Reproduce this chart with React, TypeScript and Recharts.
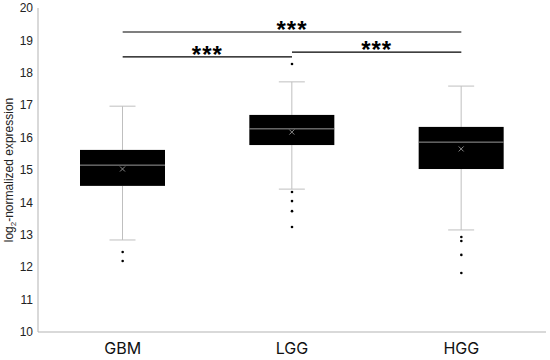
import React from 'react';
import {
  Bar,
  ComposedChart,
  ReferenceLine,
  Scatter,
  XAxis,
  YAxis
} from 'recharts';

const groups = ['GBM', 'LGG', 'HGG'];
const whiskerLow = [12.84, 14.41, 13.15];
const q1 = [14.51, 15.77, 15.03];
const median = [15.15, 16.27, 15.86];
const q3 = [15.62, 16.7, 16.33];
const whiskerHigh = [16.97, 17.72, 17.59];
const means = [15.03, 16.17, 15.65];
const outliers = [
  [12.47, 12.19],
  [18.27, 14.32, 14.04, 13.73, 13.24],
  [12.93, 12.81, 12.38, 11.82]
];
const yTicks = [10, 11, 12, 13, 14, 15, 16, 17, 18, 19, 20];

// significance brackets: from group, to group, height, label
const brackets = [
  { from: 'GBM', to: 'HGG', y: 19.26, label: '***' },
  { from: 'GBM', to: 'LGG', y: 18.49, label: '***' },
  { from: 'LGG', to: 'HGG', y: 18.64, label: '***' }
];

const boxData = groups.map((g, i) => ({
  group: g,
  low: whiskerLow[i],
  q1: q1[i],
  median: median[i],
  q3: q3[i],
  high: whiskerHigh[i],
  mean: means[i]
}));

const outlierData = groups.flatMap((g, i) => outliers[i].map((v) => ({ group: g, value: v })));

const BoxShape = (props: any) => {
  const { x, y, width, height, payload } = props;
  const top = Math.min(y, y + height);
  const h = Math.abs(height);
  const k = h / (payload.q3 - payload.q1);
  const toY = (v: number) => top + (payload.q3 - v) * k;
  const cx = x + width / 2;
  const cap = 13;
  const my = toY(payload.mean);
  const m = 2.5;
  return (
    <g>
      <line x1={cx} x2={cx} y1={toY(payload.high)} y2={top} stroke="#bfbfbf" />
      <line x1={cx} x2={cx} y1={top + h} y2={toY(payload.low)} stroke="#bfbfbf" />
      <line x1={cx - cap} x2={cx + cap} y1={toY(payload.high)} y2={toY(payload.high)} stroke="#bfbfbf" />
      <line x1={cx - cap} x2={cx + cap} y1={toY(payload.low)} y2={toY(payload.low)} stroke="#bfbfbf" />
      <rect x={x} y={top} width={width} height={h} fill="#000" />
      <line x1={x} x2={x + width} y1={toY(payload.median)} y2={toY(payload.median)} stroke="#9a9a9a" />
      <line x1={cx - m} x2={cx + m} y1={my - m} y2={my + m} stroke="#8c8c8c" />
      <line x1={cx - m} x2={cx + m} y1={my + m} y2={my - m} stroke="#8c8c8c" />
    </g>
  );
};

const Dot = (props: any) => <circle cx={props.cx} cy={props.cy} r={1.3} fill="#000" />;

const StarLabel = (props: any) => {
  const { viewBox, value } = props;
  return (
    <text
      x={viewBox.x + viewBox.width / 2}
      y={viewBox.y + 6}
      textAnchor="middle"
      fontSize={24}
      fontWeight="bold"
      letterSpacing={1}
      fontFamily="Liberation Sans, Arial, sans-serif"
      fill="#000"
    >
      {value}
    </text>
  );
};

const YLabel = (props: any) => {
  const { viewBox } = props;
  const cy = viewBox.y + viewBox.height / 2;
  const lx = 13;
  return (
    <text
      x={lx}
      y={cy}
      transform={`rotate(-90 ${lx} ${cy})`}
      textAnchor="middle"
      fontSize={12}
      fontFamily="Liberation Sans, Arial, sans-serif"
      fill="#222"
    >
      log<tspan fontSize={8} dy={3}>2</tspan>
      <tspan dy={-3}>-normalized expression</tspan>
    </text>
  );
};

export default function App() {
  return (
    <div style={{ position: 'absolute', left: 0, top: 0, background: '#fff' }}>
      <ComposedChart
        width={550}
        height={360}
        data={boxData}
        margin={{ top: 8, right: 4, bottom: 0, left: 0 }}
      >
        <XAxis
          dataKey="group"
          type="category"
          allowDuplicatedCategory={false}
          height={28}
          tickSize={0}
          tickMargin={11}
          axisLine={{ stroke: '#b3b3b3' }}
          tick={{ fill: '#111', fontSize: 16, fontFamily: 'Inter, sans-serif' }}
        />
        <YAxis
          type="number"
          domain={[10, 20]}
          ticks={yTicks}
          width={38}
          tickSize={0}
          tickMargin={5}
          axisLine={{ stroke: '#b3b3b3' }}
          tick={{ fill: '#222', fontSize: 12, fontFamily: 'Liberation Sans, Arial, sans-serif' }}
          label={<YLabel />}
        />
        <Bar
          dataKey={(d: any) => [d.q1, d.q3]}
          barSize={85}
          shape={<BoxShape />}
          isAnimationActive={false}
        />
        <Scatter
          data={outlierData}
          dataKey="value"
          shape={<Dot />}
          isAnimationActive={false}
        />
        {brackets.map((b, i) => (
          <ReferenceLine
            key={i}
            segment={[
              { x: b.from, y: b.y },
              { x: b.to, y: b.y }
            ]}
            stroke="#000"
            strokeWidth={1.2}
            label={<StarLabel value={b.label} />}
          />
        ))}
      </ComposedChart>
    </div>
  );
}
